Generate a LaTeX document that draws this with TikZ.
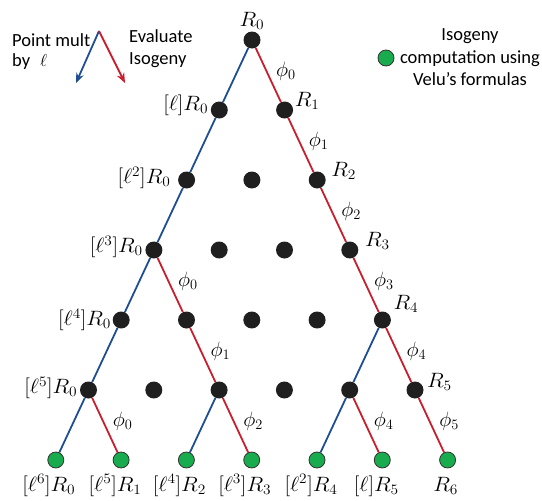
\documentclass[tikz,border=0pt]{standalone}
\usepackage{fontspec}
\usepackage{graphicx}
\newfontfamily\legendfont{Carlito}
\usetikzlibrary{arrows.meta,calc}
\definecolor{edgeblue}{RGB}{30,78,145}
\definecolor{edgered}{RGB}{200,30,45}
\definecolor{velugreen}{RGB}{25,172,78}
\newcommand\widelbl[1]{\scalebox{1.07}[1]{$#1$}}
\begin{document}
\begin{tikzpicture}[x=1pt,y=-1pt,
  dot/.style={circle,fill=black!88,inner sep=0pt,minimum size=17pt},
  gdot/.style={circle,fill=velugreen,draw=black!80,line width=0.8pt,inner sep=0pt,minimum size=16pt},
  bl/.style={draw=edgeblue,line width=1.8pt},
  rd/.style={draw=edgered,line width=1.8pt},
  mlbl/.style={font=\fontsize{21.5}{24}\selectfont,inner sep=0pt},
  phil/.style={mlbl,anchor=west,xshift=7pt,yshift=4pt},
  leg/.style={font=\legendfont\fontsize{18.5}{22}\selectfont,inner sep=0pt},
  legarrow/.style={line width=1.8pt,-{Stealth[length=10pt,width=8pt]}}]
\useasboundingbox (0,0) rectangle (542,501);
% lattice of points
\foreach \r in {0,...,5}{
  \foreach \c in {0,...,\r}{
    \node[dot] (n\r\c) at ({252-32.7*\r+65.3*\c},{40+70*\r}) {};
  }
}
\foreach \c in {0,...,6}{
  \node[gdot] (n6\c) at ({252-32.7*6+65.3*\c},460) {};
}
% point multiplication (blue)
\foreach \a/\b in {00/10,10/20,20/30,30/40,40/50,50/60,52/62,44/54,54/64}
  \draw[bl] (n\a) -- (n\b);
% isogeny evaluation (red)
\foreach \a/\b/\k in {00/11/0,11/22/1,22/33/2,33/44/3,44/55/4,55/66/5}
  \draw[rd] (n\a) -- node[phil] (pm\k) {$\phi_{\k}$} (n\b);
\foreach \a/\b/\k/\nm in {30/41/0/pa,41/52/1/pb,52/63/2/pc,50/61/0/pd,54/65/4/pe}
  \draw[rd] (n\a) -- node[phil] (\nm) {$\phi_{\k}$} (n\b);
% right labels
\node[mlbl,anchor=base] (r0) at ($(n00)+(0,-14)$) {\widelbl{R_0}};
\node[mlbl,anchor=base west] (r1) at ($(n11)+(10,-3.5)$) {\widelbl{R_1}};
\node[mlbl,anchor=base west] (r2) at ($(n22)+(14,-3.5)$) {\widelbl{R_2}};
\node[mlbl,anchor=base west] (r3) at ($(n33)+(15,-3.5)$) {\widelbl{R_3}};
\node[mlbl,anchor=base west] (r4) at ($(n44)+(11,-10.5)$) {\widelbl{R_4}};
\node[mlbl,anchor=base west] (r5) at ($(n55)+(12,-2.5)$) {\widelbl{R_5}};
% left labels
\node[mlbl,anchor=east] (l1) at ($(n10)+(-11,-5)$) {\widelbl{[\ell]R_0}};
\node[mlbl,anchor=east] (l2) at ($(n20)+(-16,-2)$) {\widelbl{[\ell^2]R_0}};
\node[mlbl,anchor=east] (l3) at ($(n30)+(-11,-3)$) {\widelbl{[\ell^3]R_0}};
\node[mlbl,anchor=east] (l4) at ($(n40)+(-10,0)$) {\widelbl{[\ell^4]R_0}};
\node[mlbl,anchor=east] (l5) at ($(n50)+(-11,-2)$) {\widelbl{[\ell^5]R_0}};
% bottom labels
\node[mlbl,anchor=base] (b0) at ($(n60)+(-7,31)$) {\widelbl{[\ell^6]R_0}};
\node[mlbl,anchor=base] (b1) at ($(n61)+(-6,31)$) {\widelbl{[\ell^5]R_1}};
\node[mlbl,anchor=base] (b2) at ($(n62)+(-7,31)$) {\widelbl{[\ell^4]R_2}};
\node[mlbl,anchor=base] (b3) at ($(n63)+(-7,31)$) {\widelbl{[\ell^3]R_3}};
\node[mlbl,anchor=base] (b4) at ($(n64)+(-6,31)$) {\widelbl{[\ell^2]R_4}};
\node[mlbl,anchor=base] (b5) at ($(n65)+(-6,31)$) {\widelbl{[\ell]R_5}};
\node[mlbl,anchor=base] (b6) at ($(n66)+(-2,31)$) {\widelbl{R_6}};
% legend
\coordinate (lo) at (99,31);
\coordinate (lb) at (76,83);
\coordinate (lr) at (125,83);
\draw[legarrow,edgeblue] (lo) -- (lb);
\draw[legarrow,edgered] (lo) -- (lr);
\node[leg,anchor=west,align=left,font=\legendfont\fontsize{18.5}{20}\selectfont] (lgpm) at (12,52) {Point mult\\by\hspace{10pt}$\ell$};
\node[leg,anchor=west,align=left] (lgev) at (129,49) {Evaluate\\Isogeny};
\node[gdot] (lgdot) at (386,58) {};
\node[leg,align=center,font=\legendfont\fontsize{18.5}{22.5}\selectfont] (lgvelu) at (470,57.5) {Isogeny\\computation using\\Velu’s formulas};
\end{tikzpicture}
\end{document}
